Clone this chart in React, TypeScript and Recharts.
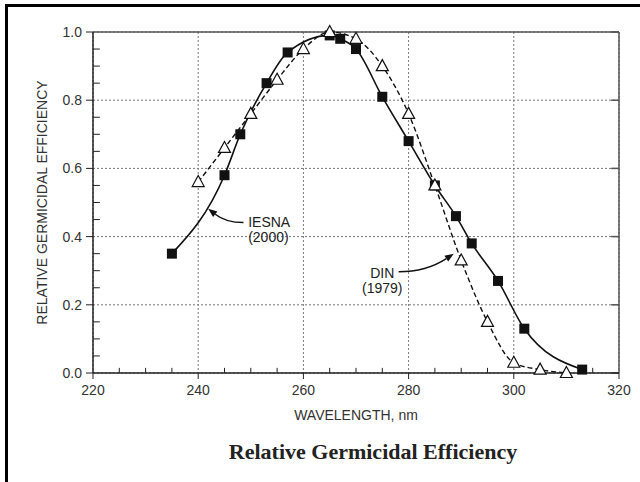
import { CartesianGrid, Line, LineChart, ReferenceDot, ReferenceLine, XAxis, YAxis } from 'recharts'

// tick positions
const wavelengthTicks = [220, 240, 260, 280, 300, 320]
const wavelengthMinorTicks = [225, 230, 235, 245, 250, 255, 265, 270, 275, 285, 290, 295, 305, 310, 315]
const efficiencyTicks = [0, 0.2, 0.4, 0.6, 0.8, 1.0]
const efficiencyMinorTicks = [0.05, 0.1, 0.15, 0.25, 0.3, 0.35, 0.45, 0.5, 0.55, 0.65, 0.7, 0.75, 0.85, 0.9, 0.95]

// IESNA (2000) - filled squares, solid line
const iesnaWavelength = [235, 245, 248, 253, 257, 265, 267, 270, 275, 280, 285, 289, 292, 297, 302, 313]
const iesnaEfficiency = [0.35, 0.58, 0.7, 0.85, 0.94, 0.99, 0.98, 0.95, 0.81, 0.68, 0.55, 0.46, 0.38, 0.27, 0.13, 0.01]

// DIN (1979) - open triangles, dashed line
const dinWavelength = [240, 245, 250, 255, 260, 265, 270, 275, 280, 285, 290, 295, 300, 305, 310]
const dinEfficiency = [0.56, 0.66, 0.76, 0.86, 0.95, 1.0, 0.98, 0.9, 0.76, 0.55, 0.33, 0.15, 0.03, 0.01, 0.0]

const iesnaData = iesnaWavelength.map((w, i) => ({ wavelength: w, efficiency: iesnaEfficiency[i] }))
const dinData = dinWavelength.map((w, i) => ({ wavelength: w, efficiency: dinEfficiency[i] }))

const sans = '"Liberation Sans", Arial, sans-serif'
const tickStyle = { fontSize: 14, fill: '#333', fontFamily: sans }

const SquareDot = (props: any) => {
    const { cx, cy, index } = props
    if (cx == null || cy == null) return <g key={index} />
    return <rect key={index} x={cx - 5} y={cy - 5} width={10} height={10} fill="#111" />
}

const TriangleDot = (props: any) => {
    const { cx, cy, index } = props
    if (cx == null || cy == null) return <g key={index} />
    return (
        <path
            key={index}
            d={`M${cx},${cy - 6.5} L${cx + 6},${cy + 4.5} L${cx - 6},${cy + 4.5} Z`}
            fill="#fff"
            stroke="#111"
            strokeWidth={1.2}
        />
    )
}

// curved leader with arrowhead, tail at (x1,y1), head at (x2,y2)
const Arrow = (props: any) => {
    const { x1, y1, x2, y2 } = props
    if ([x1, y1, x2, y2].some((v) => v == null)) return <g />
    const cx = x1 + (x2 - x1) * 0.5
    const cy = y1
    const dx = x2 - cx
    const dy = y2 - cy
    const len = Math.sqrt(dx * dx + dy * dy) || 1
    const ux = dx / len
    const uy = dy / len
    const bx = x2 - ux * 9
    const by = y2 - uy * 9
    const head = `M${x2},${y2} L${bx - uy * 3.5},${by + ux * 3.5} L${bx + uy * 3.5},${by - ux * 3.5} Z`
    return (
        <g>
            <path d={`M${x1},${y1} Q${cx},${cy} ${bx},${by}`} fill="none" stroke="#111" strokeWidth={1.5} />
            <path d={head} fill="#111" />
        </g>
    )
}

const noteText = (lines: string[], anchor: 'start' | 'middle') => (props: any) => {
    const { cx, cy } = props
    if (cx == null || cy == null) return <g />
    return (
        <text x={cx} y={cy} textAnchor={anchor} fontFamily={sans} fontSize={14} fill="#222">
            {lines.map((t, i) => (
                <tspan key={t} x={cx} dy={i === 0 ? 5 : 15}>
                    {t}
                </tspan>
            ))}
        </text>
    )
}

const YLabel = (props: any) => {
    const { viewBox } = props
    const x = viewBox.x + 42
    const y = viewBox.y + viewBox.height / 2
    return (
        <text
            x={x}
            y={y}
            transform={`rotate(-90, ${x}, ${y})`}
            textAnchor="middle"
            dominantBaseline="central"
            fontFamily={sans}
            fontSize={14}
            fill="#333"
        >
            RELATIVE GERMICIDAL EFFICIENCY
        </text>
    )
}

export default function App() {
    return (
        <div style={{ position: 'absolute', left: 0, top: 0, width: 640, height: 482, overflow: 'hidden', background: '#fff' }}>
            <div style={{ position: 'absolute', left: 5, top: 4, right: -10, bottom: -10, borderLeft: '3px solid #000', borderTop: '3px solid #000' }} />
            <LineChart width={640} height={482} margin={{ top: 32, right: 21, bottom: 49, left: 0 }}>
                <CartesianGrid stroke="#777" strokeDasharray="2 2" />
                <XAxis
                    dataKey="wavelength"
                    type="number"
                    domain={[220, 320]}
                    ticks={wavelengthTicks}
                    allowDataOverflow
                    height={60}
                    tickSize={6}
                    tickMargin={6}
                    axisLine={{ stroke: '#222', strokeWidth: 1.5 }}
                    tickLine={{ stroke: '#222' }}
                    tick={tickStyle}
                    label={{ value: 'WAVELENGTH, nm', position: 'insideBottom', offset: 13, style: { fontSize: 14, fill: '#333', fontFamily: sans } }}
                />
                <YAxis
                    type="number"
                    domain={[0, 1]}
                    ticks={efficiencyTicks}
                    width={93}
                    tickSize={7}
                    tickMargin={4}
                    tickFormatter={(v: number) => v.toFixed(1)}
                    axisLine={{ stroke: '#222', strokeWidth: 1.5 }}
                    tickLine={{ stroke: '#222' }}
                    tick={tickStyle}
                    label={<YLabel />}
                />
                {/* frame: top and right edges */}
                <ReferenceLine y={1} stroke="#555" strokeWidth={1.5} />
                <ReferenceLine x={320} stroke="#555" strokeWidth={1.5} />
                {/* inward minor ticks */}
                {wavelengthMinorTicks.map((t) => (
                    <ReferenceLine key={`mx${t}`} segment={[{ x: t, y: 0 }, { x: t, y: 0.015 }]} stroke="#222" />
                ))}
                {efficiencyMinorTicks.map((t) => (
                    <ReferenceLine key={`my${t}`} segment={[{ x: 220, y: t }, { x: 221.3, y: t }]} stroke="#222" />
                ))}
                {efficiencyTicks.map((t) => (
                    <ReferenceLine key={`ry${t}`} segment={[{ x: 318.5, y: t }, { x: 320, y: t }]} stroke="#555" strokeWidth={1.5} />
                ))}
                <Line
                    data={iesnaData}
                    dataKey="efficiency"
                    type="monotone"
                    stroke="#111"
                    strokeWidth={1.6}
                    dot={SquareDot}
                    activeDot={false}
                    isAnimationActive={false}
                />
                <Line
                    data={dinData}
                    dataKey="efficiency"
                    type="monotone"
                    stroke="#111"
                    strokeWidth={1.4}
                    strokeDasharray="5 3"
                    dot={TriangleDot}
                    activeDot={false}
                    isAnimationActive={false}
                />
                <ReferenceLine segment={[{ x: 248.6, y: 0.441 }, { x: 241.9, y: 0.482 }]} shape={Arrow} />
                <ReferenceLine segment={[{ x: 278.1, y: 0.297 }, { x: 288.6, y: 0.35 }]} shape={Arrow} />
                <ReferenceDot x={249.5} y={0.444} r={0} shape={noteText(['IESNA', '(2000)'], 'start')} />
                <ReferenceDot x={275} y={0.294} r={0} shape={noteText(['DIN', '(1979)'], 'middle')} />
            </LineChart>
            <div
                style={{
                    position: 'absolute',
                    left: 373,
                    top: 452,
                    transform: 'translate(-50%, -50%)',
                    whiteSpace: 'nowrap',
                    fontFamily: '"Liberation Serif", "Times New Roman", serif',
                    fontWeight: 'bold',
                    fontSize: 22,
                    color: '#222',
                }}
            >
                Relative Germicidal Efficiency
            </div>
        </div>
    )
}
